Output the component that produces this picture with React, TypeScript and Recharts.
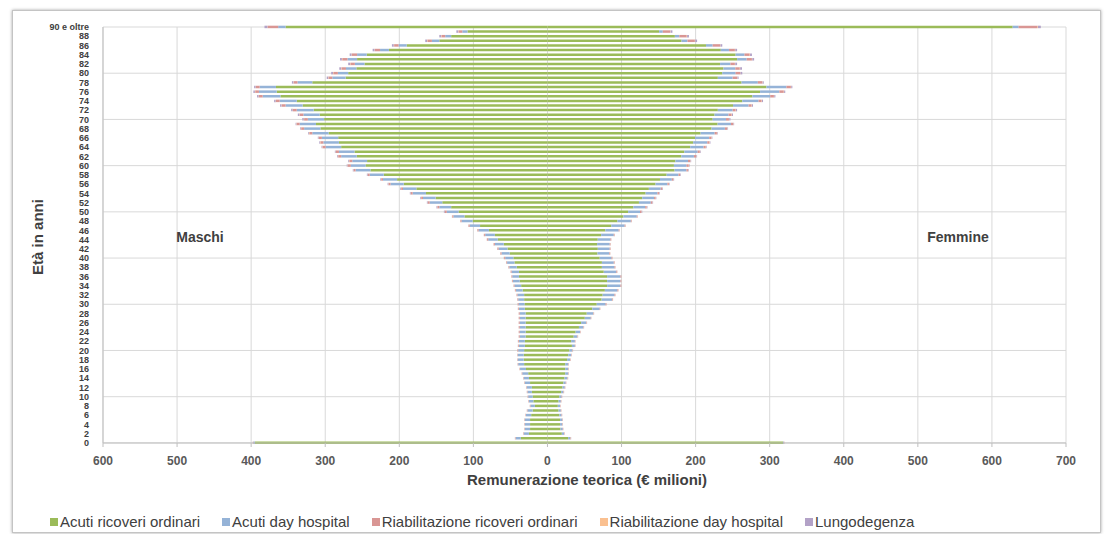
import { BarChart, Bar, XAxis, YAxis, CartesianGrid } from "recharts";

// età 0..90 ("90 e oltre" is the last one)
const ages = [
  0, 1, 2, 3, 4, 5, 6, 7, 8, 9,
  10, 11, 12, 13, 14, 15, 16, 17, 18, 19,
  20, 21, 22, 23, 24, 25, 26, 27, 28, 29,
  30, 31, 32, 33, 34, 35, 36, 37, 38, 39,
  40, 41, 42, 43, 44, 45, 46, 47, 48, 49,
  50, 51, 52, 53, 54, 55, 56, 57, 58, 59,
  60, 61, 62, 63, 64, 65, 66, 67, 68, 69,
  70, 71, 72, 73, 74, 75, 76, 77, 78, 79,
  80, 81, 82, 83, 84, 85, 86, 87, 88, 89,
  90,
];

// Maschi (€ milioni)
const maleAcutiOrd = [
  395, 36, 25, 23.5, 23.5, 23.5, 22, 20, 17, 19,
  20, 21, 21, 23.5, 25, 26, 29, 31.5, 32, 32,
  31.5, 30.5, 30.5, 29.5, 29.5, 29.5, 29.5, 29.5, 29.5, 30.5,
  31, 31.5, 31.5, 33.5, 35.5, 37.5, 38.5, 38.5, 41.5, 44.5,
  46, 51, 54, 59, 67, 71, 79, 91, 101, 112,
  120, 130, 142, 151, 164, 177, 194, 203, 221, 239,
  245.5, 243.5, 257.5, 260.5, 278.5, 281.5, 282.5, 295.5, 306.5, 312.5,
  301.5, 307.5, 315.5, 330.5, 338.5, 360.5, 365.5, 366.5, 317.5, 272.5,
  269, 258, 247, 257, 244, 214, 190, 146, 130, 108,
  353.5,
];
const maleAcutiDh = [
  2, 7, 7, 7, 7, 7, 7, 7, 6, 6,
  6, 6, 7, 7, 7, 8, 8, 8, 8, 8,
  8, 8, 8, 8, 8, 8, 8, 8, 8, 8,
  8, 8, 9, 9, 9, 9, 9, 10, 10, 10,
  11, 11, 12, 12, 13, 13, 14, 14, 15, 15,
  16, 16, 17, 17, 18, 18, 18, 19, 19, 20,
  20, 20, 21, 21, 21, 21, 22, 22, 22, 22,
  22, 22, 23, 23, 23, 24, 24, 22, 20, 18,
  14, 14, 13, 13, 13, 12, 11, 10, 8, 7,
  10,
];
const maleRiabOrd = [
  0.5, 0.5, 0.5, 0.5, 0.5, 0.5, 0.5, 0.5, 0.5, 0.5,
  0.5, 0.5, 0.5, 0.5, 0.5, 0.5, 0.5, 0.5, 0.5, 0.5,
  1, 1, 1, 1, 1, 1, 1, 1, 1, 1,
  1, 1, 1, 1, 1, 1, 1, 1, 1, 1,
  1.5, 1.5, 1.5, 1.5, 1.5, 1.5, 1.5, 1.5, 1.5, 1.5,
  2.5, 2.5, 2.5, 2.5, 2.5, 2.5, 2.5, 2.5, 2.5, 2.5,
  4, 4, 4, 4, 4, 4, 4, 4, 4, 4,
  5, 5, 5, 5, 5, 5, 5, 5, 5, 5,
  6, 6, 6, 7, 7, 7, 6, 6, 5, 5,
  14,
];
const maleRiabDh = [
  0.3, 0.3, 0.3, 0.3, 0.3, 0.3, 0.3, 0.3, 0.3, 0.3,
  0.3, 0.3, 0.3, 0.3, 0.3, 0.3, 0.3, 0.3, 0.3, 0.3,
  0.3, 0.3, 0.3, 0.3, 0.3, 0.3, 0.3, 0.3, 0.3, 0.3,
  0.3, 0.3, 0.3, 0.3, 0.3, 0.3, 0.3, 0.3, 0.3, 0.3,
  0.3, 0.3, 0.3, 0.3, 0.3, 0.3, 0.3, 0.3, 0.3, 0.3,
  0.3, 0.3, 0.3, 0.3, 0.3, 0.3, 0.3, 0.3, 0.3, 0.3,
  0.5, 0.5, 0.5, 0.5, 0.5, 0.5, 0.5, 0.5, 0.5, 0.5,
  0.5, 0.5, 0.5, 0.5, 0.5, 0.5, 0.5, 0.5, 0.5, 0.5,
  0.5, 0.5, 0.5, 0.5, 0.5, 0.5, 0.5, 0.5, 0.5, 0.5,
  0.5,
];
const maleLungo = [
  0.2, 0.2, 0.2, 0.2, 0.2, 0.2, 0.2, 0.2, 0.2, 0.2,
  0.2, 0.2, 0.2, 0.2, 0.2, 0.2, 0.2, 0.2, 0.2, 0.2,
  0.2, 0.2, 0.2, 0.2, 0.2, 0.2, 0.2, 0.2, 0.2, 0.2,
  0.2, 0.2, 0.2, 0.2, 0.2, 0.2, 0.2, 0.2, 0.2, 0.2,
  0.2, 0.2, 0.2, 0.2, 0.2, 0.2, 0.2, 0.2, 0.2, 0.2,
  1, 1, 1, 1, 1, 1, 1, 1, 1, 1,
  1, 1, 1, 1, 1, 1, 1, 1, 1, 1,
  2, 2, 2, 2, 2, 2, 2, 2, 2, 2,
  2.5, 2.5, 2.5, 2.5, 2.5, 2.5, 2.5, 2.5, 2.5, 2.5,
  4,
];

// Femmine (€ milioni)
const femaleAcutiOrd = [
  318, 28, 19.4, 17.6, 17, 17, 16, 15, 14, 15,
  16, 18.5, 20.3, 21.6, 23, 24, 24, 24, 26.5, 28,
  29.6, 33, 32, 35.4, 38, 42.5, 45.5, 50.4, 53, 60.5,
  66.5, 73.1, 74.5, 77.5, 80.5, 80.5, 80.5, 76, 73.5, 73.5,
  70.5, 67.5, 68, 67, 67.9, 72.5, 78.1, 86.2, 94.5, 102.5,
  108.9, 115.9, 123.5, 127.9, 132.5, 136.9, 145.9, 151.9, 160.9, 171.6,
  170.7, 172.7, 180.7, 184.7, 192.7, 196.7, 199.3, 206.7, 221.5, 229.7,
  223, 225.5, 230, 250.5, 263, 276.7, 287, 295.6, 262, 230,
  236, 237.6, 233, 256, 254, 234, 214, 181, 172, 150.7,
  628,
];
const femaleAcutiDh = [
  1, 3, 3, 3, 3, 3, 3, 3, 3, 3,
  3, 3, 3, 3, 4, 4, 4, 4, 4, 4,
  4, 4, 5, 5, 6, 6, 7, 8, 9, 10,
  12, 14, 16, 17, 18, 18, 18, 17, 17, 16,
  16, 16, 16, 17, 17, 17, 18, 18, 18, 18,
  16, 16, 16, 16, 16, 16, 16, 16, 16, 16,
  17, 17, 17, 18, 18, 19, 19, 19, 18, 18,
  18, 19, 20, 21, 22, 24, 26, 27, 22, 20,
  18, 16, 14, 13, 12, 11, 9, 8, 6, 5,
  8,
];
const femaleRiabOrd = [
  0.5, 0.5, 0.5, 0.5, 0.5, 0.5, 0.5, 0.5, 0.5, 0.5,
  0.5, 0.5, 0.5, 0.5, 0.5, 0.5, 0.5, 0.5, 0.5, 0.5,
  0.5, 0.5, 0.5, 0.5, 0.5, 0.5, 0.5, 0.5, 0.5, 0.5,
  1, 1, 1, 1, 1, 1, 1, 1, 1, 1,
  1, 1, 1, 1, 1, 1, 1, 1, 1, 1,
  2, 2, 2, 2, 2, 2, 2, 2, 2, 2,
  3, 3, 3, 3, 3, 3, 3, 3, 3, 3,
  4, 4, 4, 4, 4, 5, 6, 6, 6, 6,
  6, 6, 6, 7, 7, 8, 10, 10, 10, 10,
  25,
];
const femaleRiabDh = [
  0.3, 0.3, 0.3, 0.3, 0.3, 0.3, 0.3, 0.3, 0.3, 0.3,
  0.3, 0.3, 0.3, 0.3, 0.3, 0.3, 0.3, 0.3, 0.3, 0.3,
  0.3, 0.3, 0.3, 0.3, 0.3, 0.3, 0.3, 0.3, 0.3, 0.3,
  0.3, 0.3, 0.3, 0.3, 0.3, 0.3, 0.3, 0.3, 0.3, 0.3,
  0.3, 0.3, 0.3, 0.3, 0.3, 0.3, 0.3, 0.3, 0.3, 0.3,
  0.3, 0.3, 0.3, 0.3, 0.3, 0.3, 0.3, 0.3, 0.3, 0.3,
  0.5, 0.5, 0.5, 0.5, 0.5, 0.5, 0.5, 0.5, 0.5, 0.5,
  0.5, 0.5, 0.5, 0.5, 0.5, 0.5, 0.5, 0.5, 0.5, 0.5,
  0.5, 0.5, 0.5, 0.5, 0.5, 0.5, 0.5, 0.5, 0.5, 0.5,
  1,
];
const femaleLungo = [
  0.2, 0.2, 0.2, 0.2, 0.2, 0.2, 0.2, 0.2, 0.2, 0.2,
  0.2, 0.2, 0.2, 0.2, 0.2, 0.2, 0.2, 0.2, 0.2, 0.2,
  0.2, 0.2, 0.2, 0.2, 0.2, 0.2, 0.2, 0.2, 0.2, 0.2,
  0.2, 0.2, 0.2, 0.2, 0.2, 0.2, 0.2, 0.2, 0.2, 0.2,
  0.2, 0.2, 0.2, 0.2, 0.2, 0.2, 0.2, 0.2, 0.2, 0.2,
  0.8, 0.8, 0.8, 0.8, 0.8, 0.8, 0.8, 0.8, 0.8, 0.8,
  0.8, 0.8, 0.8, 0.8, 0.8, 0.8, 0.8, 0.8, 0.8, 0.8,
  1.5, 1.5, 1.5, 1.5, 1.5, 1.5, 1.5, 1.5, 1.5, 1.5,
  2.5, 2.5, 2.5, 2.5, 2.5, 2.5, 2.5, 2.5, 2.5, 2.5,
  4,
];

const seriesNames = [
  "Acuti ricoveri ordinari",
  "Acuti day hospital",
  "Riabilitazione ricoveri ordinari",
  "Riabilitazione day hospital",
  "Lungodegenza",
];
const seriesColors = ["#9bbb59", "#95b3d7", "#d99694", "#fac090", "#b3a2c7"];

const xTicks = [-600, -500, -400, -300, -200, -100, 0, 100, 200, 300, 400, 500, 600, 700];
const yTicks = [
  0, 2, 4, 6, 8, 10, 12, 14, 16, 18, 20, 22, 24, 26, 28, 30, 32, 34, 36, 38, 40, 42, 44,
  46, 48, 50, 52, 54, 56, 58, 60, 62, 64, 66, 68, 70, 72, 74, 76, 78, 80, 82, 84, 86, 88, 90,
];
const gridAges = [0, 10, 20, 30, 40, 50, 60, 70, 80, 90];

const maleSeries = [maleAcutiOrd, maleAcutiDh, maleRiabOrd, maleRiabDh, maleLungo];
const femaleSeries = [femaleAcutiOrd, femaleAcutiDh, femaleRiabOrd, femaleRiabDh, femaleLungo];

const rows = ages.map((age, i) => {
  const row: Record<string, number> = { age };
  maleSeries.forEach((s, k) => (row[`m${k}`] = -s[i]));
  femaleSeries.forEach((s, k) => (row[`f${k}`] = s[i]));
  return row;
});

const font = '"Liberation Sans", Arial, sans-serif';
const grid = "#d9d9d9";
const axis = "#bfbfbf";

export default function App() {
  return (
    <div
      style={{
        position: "absolute",
        left: 0,
        top: 0,
        width: 1105,
        height: 534,
        background: "#fff",
        overflow: "hidden",
        fontFamily: font,
      }}
    >
      <div
        style={{
          position: "absolute",
          left: 12,
          top: 10,
          width: 1087,
          height: 521,
          border: "1px solid #c4c4c4",
          boxShadow: "0 0 3px rgba(0,0,0,0.35)",
        }}
      />
      <div style={{ position: "absolute", left: 0, top: 0 }}>
        <BarChart
          width={1105}
          height={534}
          data={rows}
          layout="vertical"
          stackOffset="sign"
          margin={{ top: 27, right: 39, bottom: 61, left: 33 }}
        >
          <CartesianGrid
            stroke={grid}
            horizontalValues={gridAges}
            verticalValues={xTicks}
          />
          <XAxis
            type="number"
            domain={[-600, 700]}
            ticks={xTicks}
            interval={0}
            tickFormatter={(v: number) => String(Math.abs(v))}
            tick={{ fontSize: 12, fontWeight: 700, fill: "#595959", fontFamily: font }}
            axisLine={{ stroke: axis }}
            tickLine={{ stroke: axis }}
            tickSize={4}
            tickMargin={9}
            height={30}
          />
          <YAxis
            type="number"
            dataKey="age"
            domain={[-0.02, 90]}
            reversed
            ticks={yTicks}
            interval={0}
            tickFormatter={(v: number) => (v === 90 ? "90 e oltre" : String(v))}
            tick={{ fontSize: 9, fontWeight: 700, fill: "#404040", fontFamily: font }}
            axisLine={{ stroke: axis }}
            tickLine={false}
            tickSize={4}
            tickMargin={10}
            width={70}
          />
          {seriesNames.map((name, k) => (
            <Bar
              key={`m${k}`}
              dataKey={`m${k}`}
              name={name}
              stackId="s"
              fill={seriesColors[k]}
              barSize={2.5}
              isAnimationActive={false}
            />
          ))}
          {seriesNames.map((name, k) => (
            <Bar
              key={`f${k}`}
              dataKey={`f${k}`}
              name={name}
              stackId="s"
              fill={seriesColors[k]}
              barSize={2.5}
              legendType="none"
              isAnimationActive={false}
            />
          ))}
        </BarChart>
      </div>

      <div
        style={{
          position: "absolute",
          left: 37,
          top: 237,
          transform: "translate(-50%, -50%) rotate(-90deg)",
          fontSize: 15,
          fontWeight: 700,
          color: "#404040",
          whiteSpace: "nowrap",
        }}
      >
        Età in anni
      </div>
      <div
        style={{
          position: "absolute",
          left: 200,
          top: 237,
          transform: "translate(-50%, -50%)",
          fontSize: 14,
          fontWeight: 700,
          color: "#404040",
        }}
      >
        Maschi
      </div>
      <div
        style={{
          position: "absolute",
          left: 958,
          top: 237,
          transform: "translate(-50%, -50%)",
          fontSize: 14,
          fontWeight: 700,
          color: "#404040",
        }}
      >
        Femmine
      </div>
      <div
        style={{
          position: "absolute",
          left: 587,
          top: 479,
          transform: "translate(-50%, -50%)",
          fontSize: 15,
          fontWeight: 700,
          color: "#404040",
          whiteSpace: "nowrap",
        }}
      >
        Remunerazione teorica (€ milioni)
      </div>

      <div
        style={{
          position: "absolute",
          left: 50,
          top: 513,
          display: "flex",
          gap: 22,
          fontSize: 15,
          lineHeight: "18px",
          color: "#404040",
          whiteSpace: "nowrap",
        }}
      >
        {seriesNames.map((name, k) => (
          <div key={name} style={{ display: "flex", alignItems: "center" }}>
            <span
              style={{
                display: "inline-block",
                width: 8,
                height: 8,
                marginRight: 2,
                background: seriesColors[k],
              }}
            />
            {name}
          </div>
        ))}
      </div>
    </div>
  );
}
